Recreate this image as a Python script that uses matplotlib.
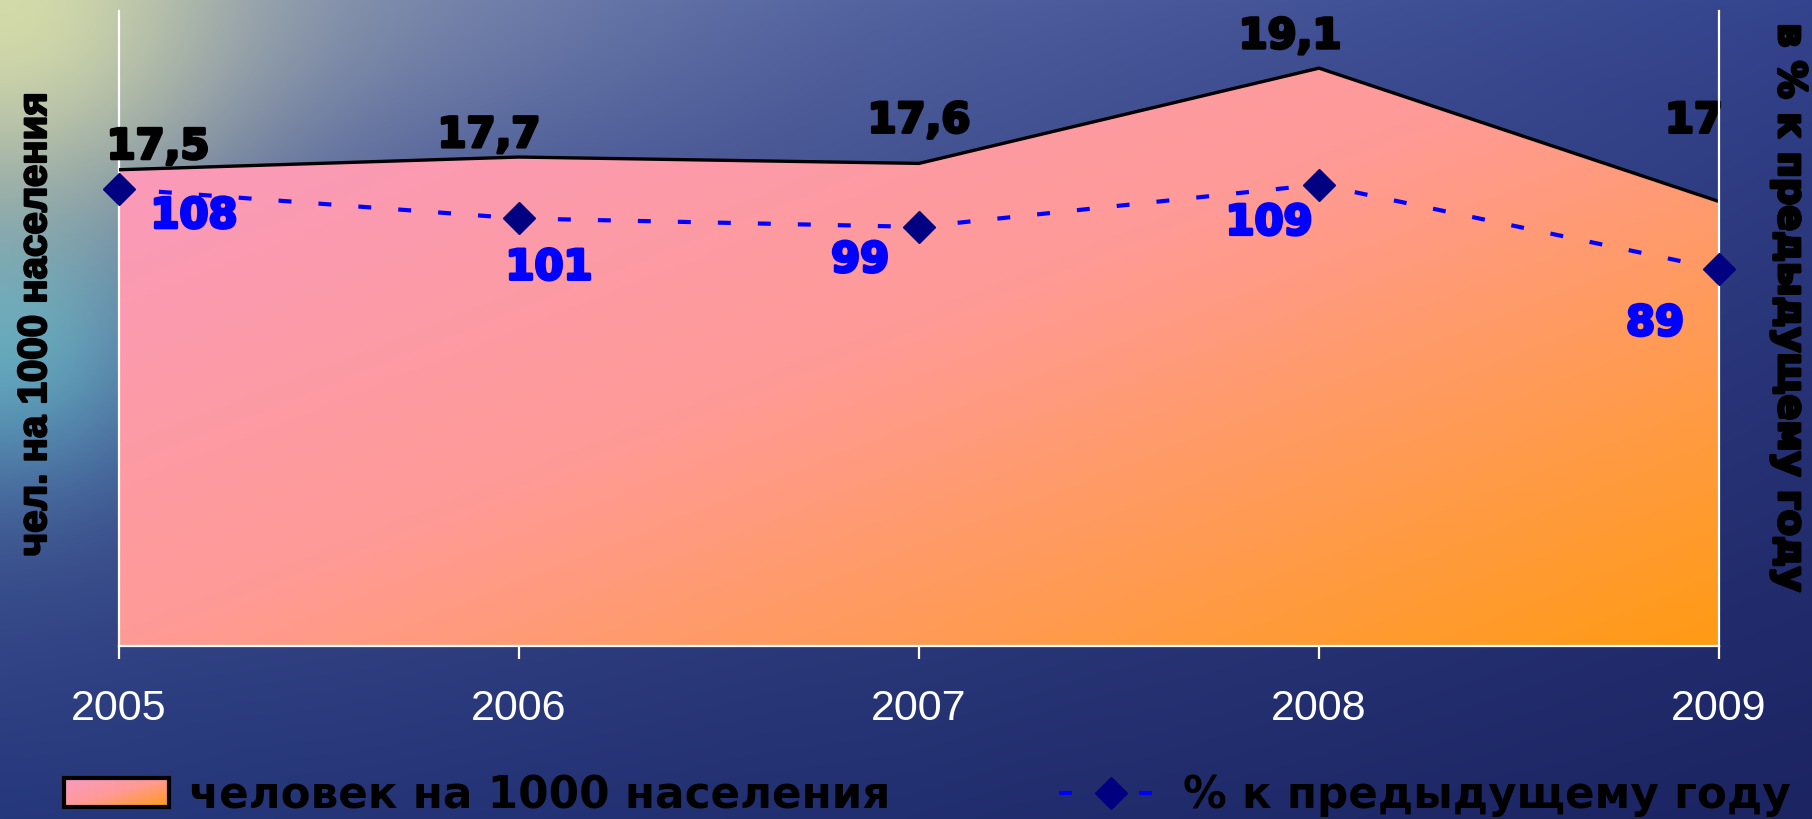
import numpy as np
import matplotlib
matplotlib.use("Agg")
import matplotlib.pyplot as plt
import matplotlib.patheffects as pe
from matplotlib.colors import LinearSegmentedColormap, to_rgb
from matplotlib.lines import Line2D
from matplotlib.patches import Patch

# ── Data ──────────────────────────────────────────────────────────────────────
years = [2005, 2006, 2007, 2008, 2009]
per_1000 = [17.5, 17.7, 17.6, 19.1, 17.0]
per_1000_text = ["17,5", "17,7", "17,6", "19,1", "17"]
pct_prev = [108, 101, 99, 109, 89]
pct_prev_text = ["108", "101", "99", "109", "89"]

# label offsets in pixels (dx, dy up)
black_off = [(39, 23), (-30, 22), (0, 43), (-29, 32), (-25, 81)]
blue_off = [(75, -27), (30, -49), (-59, -33), (-50, -38), (-64, -54)]

W, H = 1812, 820
fig = plt.figure(figsize=(W / 100, H / 100), dpi=100)

# ── Background (sea photo imitation) ──────────────────────────────────────────
gx, gy = np.meshgrid(np.linspace(0, 1, 453), np.linspace(0, 1, 205))
top = np.array(to_rgb("#6c7cb0"))[None, None, :] * (1 - gx[..., None]) + \
      np.array(to_rgb("#34448e"))[None, None, :] * gx[..., None]
bot = np.array(to_rgb("#26387c"))[None, None, :] * (1 - gx[..., None]) + \
      np.array(to_rgb("#1c2462"))[None, None, :] * gx[..., None]
t = gy[..., None] ** 0.8
bg = top * (1 - t) + bot * t
glow_y = np.exp(-((gx / 0.14) ** 2 + (gy / 0.3) ** 2))[..., None]
glow_c = np.exp(-((gx / 0.09) ** 2 + ((gy - 0.42) / 0.18) ** 2))[..., None]
glow_g = np.exp(-(((gx - 0.18) / 0.2) ** 2 + (gy / 0.18) ** 2))[..., None]
bg = bg * (1 - 0.35 * glow_g) + np.array(to_rgb("#9aa6b0")) * 0.35 * glow_g
bg = bg * (1 - 0.75 * glow_c) + np.array(to_rgb("#5cb8cc")) * 0.75 * glow_c
bg = bg * (1 - 0.85 * glow_y) + np.array(to_rgb("#e4eaa8")) * 0.85 * glow_y
bg_ax = fig.add_axes([0, 0, 1, 1], zorder=-1)
bg_ax.imshow(np.clip(bg, 0, 1), aspect="auto", extent=[0, 1, 0, 1],
             interpolation="bilinear")
bg_ax.set_axis_off()

# ── Main axes ─────────────────────────────────────────────────────────────────
ax = fig.add_axes([119 / W, 1 - 647 / H, 1600 / W, 635 / H])
ax.patch.set_alpha(0)
ax.set_xlim(years[0], years[-1])
ax.set_ylim(10, 20)

fill_cmap = LinearSegmentedColormap.from_list(
    "fill", ["#f89ac6", "#ff9a96", "#ff9a14"])
poly = ax.fill_between(years, 10, per_1000, color="none", lw=0)
gxx, gyy = np.meshgrid(np.linspace(0, 1, 300), np.linspace(0, 1, 150))
grad = (gxx + gyy) / 2
img = ax.imshow(grad, cmap=fill_cmap, aspect="auto",
                extent=[years[0], years[-1], 10, 20], zorder=1)
img.set_clip_path(poly.get_paths()[0], transform=ax.transData)
ax.plot(years, per_1000, color="black", lw=2.4, zorder=3, solid_joinstyle="miter")

heavy = lambda c, w=2.2: [pe.withStroke(linewidth=w, foreground=c)]
for xv, yv, s, (dx, dy) in zip(years, per_1000, per_1000_text, black_off):
    ax.annotate(s, (xv, yv), xytext=(dx, dy), textcoords="offset pixels",
                ha="center", va="center", fontsize=30, fontweight="bold",
                family="DejaVu Sans", color="black", zorder=6,
                annotation_clip=False, path_effects=heavy("black"))

ax.spines["top"].set_visible(False)
ax.spines["right"].set_visible(False)
ax.spines["left"].set_color("white")
ax.spines["bottom"].set_color("white")
ax.spines["left"].set_linewidth(1.6)
ax.spines["bottom"].set_linewidth(1.6)
ax.set_yticks([])
ax.set_xticks(years)
ax.set_xticklabels([str(y) for y in years])
ax.tick_params(axis="x", colors="white", length=9, width=1.6, direction="out",
               pad=21, labelsize=31)
for lab in ax.get_xticklabels():
    lab.set_family("Liberation Sans")

# ── Secondary axis (% к предыдущему году) ─────────────────────────────────────
ax2 = ax.twinx()
ax2.set_ylim(0, 150)
ax2.plot(years, pct_prev, color="#0000ff", lw=3, dashes=(3.1, 6.5),
         marker="D", markersize=16, markerfacecolor="#000080",
         markeredgecolor="#000080", zorder=5, clip_on=False)
for xv, yv, s, (dx, dy) in zip(years, pct_prev, pct_prev_text, blue_off):
    ax2.annotate(s, (xv, yv), xytext=(dx, dy), textcoords="offset pixels",
                 ha="center", va="center", fontsize=30, fontweight="bold",
                 family="DejaVu Sans", color="#0000ff", zorder=6,
                 annotation_clip=False, path_effects=heavy("#0000ff"))
for side in ("top", "left", "bottom"):
    ax2.spines[side].set_visible(False)
ax2.spines["right"].set_color("white")
ax2.spines["right"].set_linewidth(1.6)
ax2.set_yticks([])

# ── Axis titles ───────────────────────────────────────────────────────────────
fig.text(35 / W, 1 - 326 / H, "чел. на 1000 населения", rotation=90,
         ha="center", va="center", fontsize=29, fontweight="bold",
         family="Liberation Sans", color="black", path_effects=heavy("black", 1.6))
fig.text(1789 / W, 1 - 309 / H, "в % к предыдущему году", rotation=270,
         ha="center", va="center", fontsize=27.5, fontweight="bold",
         family="DejaVu Sans", color="black", path_effects=heavy("black"))

# ── Legend ────────────────────────────────────────────────────────────────────
handles = [
    Patch(facecolor="none", edgecolor="black", linewidth=3),
    Line2D([], [], color="#0000ff", lw=3, dashes=(3.1, 6.5), marker="D",
           markersize=16, markerfacecolor="#000080", markeredgecolor="#000080"),
]
leg = fig.legend(handles, ["человек на 1000 населения", "% к предыдущему году"],
                 loc="center left", bbox_to_anchor=(64 / W, 1 - 796 / H),
                 ncol=2, frameon=False, borderpad=0, borderaxespad=0,
                 handlelength=2.4, handleheight=0.65, handletextpad=0.45,
                 columnspacing=3.85,
                 prop={"family": "DejaVu Sans", "weight": "bold", "size": 31.5})
for txt in leg.get_texts():
    txt.set_color("black")

fig.canvas.draw()
bb = leg.legend_handles[0].get_window_extent().transformed(fig.transFigure.inverted())
lg_ax = fig.add_axes([bb.x0, bb.y0, bb.width, bb.height], zorder=1)
lg_ax.imshow(grad, cmap=fill_cmap, aspect="auto", extent=[0, 1, 0, 1])
lg_ax.set_axis_off()

fig.savefig("out.png", dpi=100)
